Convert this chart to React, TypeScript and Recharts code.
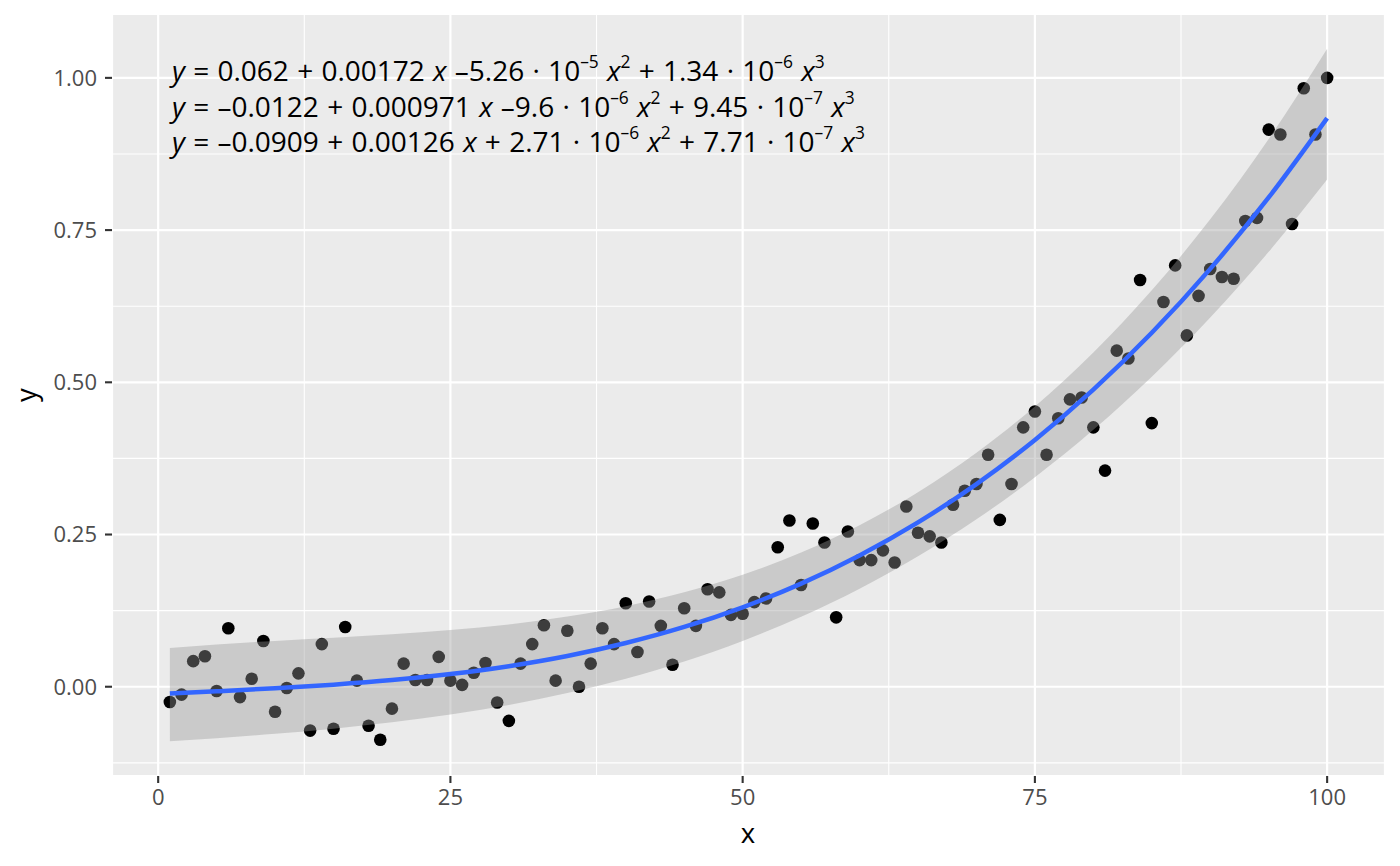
import React from "react";
import {
  Area, CartesianGrid, ComposedChart, Line, Scatter, XAxis, YAxis,
} from "recharts";

/* ggplot2-style cubic fit: raw points, a grey confidence ribbon and the blue fit line.
   The ribbon sits over the points (they show through it darker), so it lives in a
   second, transparent chart laid on top with the same scales. */

const W = 1400;
const H = 866;
const PANEL = "#EBEBEB";
const TICK_INK = "#4D4D4D";
const FONT = "'Open Sans', 'Noto Sans', sans-serif";
const X_DOMAIN: [number, number] = [-3.95, 104.95];
const Y_DOMAIN: [number, number] = [-0.1466, 1.1049];

const xTicks = [0, 25, 50, 75, 100];
const yTicks = [0, 0.25, 0.5, 0.75, 1];
const xMinor = [12.5, 37.5, 62.5, 87.5];
const yMinor = [-0.125, 0.125, 0.375, 0.625, 0.875];

// observed points, x = 1..100
const pointY = [
  -0.025, -0.013, 0.042, 0.05, -0.007, 0.096, -0.017, 0.013, 0.075, -0.041,
  -0.002, 0.022, -0.072, 0.07, -0.069, 0.098, 0.01, -0.064, -0.087, -0.036,
  0.038, 0.011, 0.011, 0.049, 0.01, 0.003, 0.023, 0.039, -0.026, -0.056,
  0.038, 0.07, 0.101, 0.01, 0.092, 0.0, 0.038, 0.096, 0.07, 0.137,
  0.057, 0.14, 0.1, 0.036, 0.129, 0.1, 0.16, 0.155, 0.118, 0.12,
  0.139, 0.145, 0.229, 0.273, 0.167, 0.268, 0.237, 0.114, 0.255, 0.208,
  0.208, 0.224, 0.204, 0.296, 0.253, 0.247, 0.237, 0.299, 0.322, 0.333,
  0.381, 0.274, 0.333, 0.426, 0.452, 0.381, 0.441, 0.472, 0.475, 0.426,
  0.355, 0.552, 0.539, 0.668, 0.433, 0.632, 0.692, 0.577, 0.642, 0.686,
  0.673, 0.67, 0.765, 0.77, 0.915, 0.907, 0.76, 0.983, 0.907, 1.0,
];

// fitted curve and ribbon, read at these x positions
const fitX = [1, 5, 10, 15, 20, 25, 30, 35, 40, 45, 50, 55, 60, 65, 70, 75, 80, 85, 90, 95, 100];
const fitMid = [
  -0.0112, -0.0075, -0.0025, 0.0034, 0.0109, 0.0208, 0.0338, 0.0505, 0.0718, 0.0982, 0.1305,
  0.1694, 0.2156, 0.2699, 0.3329, 0.4053, 0.4879, 0.5813, 0.6863, 0.8036, 0.9339,
];
const fitHigh = [
  0.0637, 0.0695, 0.0753, 0.0805, 0.0861, 0.0931, 0.1024, 0.1152, 0.1324, 0.155, 0.184,
  0.2204, 0.2653, 0.3196, 0.3843, 0.4604, 0.549, 0.6511, 0.7676, 0.8996, 1.048,
];
const fitLow = [
  -0.0896, -0.0844, -0.0773, -0.0688, -0.0585, -0.0457, -0.0298, -0.0104, 0.0132, 0.0416, 0.0753,
  0.1149, 0.161, 0.2142, 0.275, 0.3441, 0.422, 0.5093, 0.6065, 0.7143, 0.833,
];

type Tok = [string, ("i" | "s")?];
const equations: Tok[][] = [
  [["y", "i"], [" = 0.062 + 0.00172 "], ["x", "i"], [" –5.26 · 10"], ["–5", "s"], [" "], ["x", "i"], ["2", "s"],
    [" + 1.34 · 10"], ["–6", "s"], [" "], ["x", "i"], ["3", "s"]],
  [["y", "i"], [" = –0.0122 + 0.000971 "], ["x", "i"], [" –9.6 · 10"], ["–6", "s"], [" "], ["x", "i"], ["2", "s"],
    [" + 9.45 · 10"], ["–7", "s"], [" "], ["x", "i"], ["3", "s"]],
  [["y", "i"], [" = –0.0909 + 0.00126 "], ["x", "i"], [" + 2.71 · 10"], ["–6", "s"], [" "], ["x", "i"], ["2", "s"],
    [" + 7.71 · 10"], ["–7", "s"], [" "], ["x", "i"], ["3", "s"]],
];

const fitData = fitX.map((x, i) => ({ x, fit: fitMid[i], band: [fitLow[i], fitHigh[i]] }));
const points = pointY.map((y, i) => ({ x: i + 1, y }));

function EquationLine({ toks, x, y, size }: { toks: Tok[]; x: number; y: number; size: number }) {
  const raise = size * 0.46;
  let up = false;
  return (
    <text x={x} y={y} fontSize={size} fontFamily={FONT} fill="#000"
      style={{ whiteSpace: "pre", wordSpacing: 1 }}>
      {toks.map(([t, k], i) => {
        let dy = 0;
        if (k === "s" && !up) { dy = -raise; up = true; }
        else if (k !== "s" && up) { dy = raise; up = false; }
        return (
          <tspan key={i} dy={dy || undefined} fontStyle={k === "i" ? "italic" : undefined}
            fontSize={k === "s" ? size * 0.62 : undefined}>{t}</tspan>
        );
      })}
    </text>
  );
}

const Dot = (p: { cx?: number; cy?: number }) => <circle cx={p.cx} cy={p.cy} r={6.3} fill="#000" />;

const tickStyle = { fontSize: 22, fill: TICK_INK, fontFamily: FONT };
const tickLine = { stroke: "#333", strokeWidth: 2.1 };
const layer = { position: "absolute", left: 0, top: 0 } as const;

export default function App() {
  return (
    <div style={{ position: "fixed", left: 0, top: 0, width: W, height: H, background: "#fff" }}>
      {/* panel, grid, axes and raw points */}
      <div style={layer}>
        <ComposedChart width={W} height={H} data={fitData} margin={{ top: 14, right: 15, bottom: 0, left: 0 }}>
          <CartesianGrid fill={PANEL} stroke="#fff" strokeWidth={1.1}
            verticalValues={xMinor} horizontalValues={yMinor} />
          <CartesianGrid stroke="#fff" strokeWidth={2.2} />
          <XAxis dataKey="x" type="number" domain={X_DOMAIN} ticks={xTicks} allowDataOverflow
            height={90} tickSize={7} tickMargin={6} axisLine={false} tickLine={tickLine} tick={tickStyle} />
          <YAxis type="number" domain={Y_DOMAIN} ticks={yTicks} allowDataOverflow
            width={112} tickSize={7} tickMargin={8} axisLine={false} tickLine={tickLine} tick={tickStyle}
            tickFormatter={(v: number) => v.toFixed(2)} />
          <Scatter data={points} dataKey="y" shape={Dot} isAnimationActive={false} />
        </ComposedChart>
      </div>
      {/* ribbon and fitted line on top */}
      <div style={layer}>
        <ComposedChart width={W} height={H} data={fitData} margin={{ top: 14, right: 15, bottom: 90, left: 112 }}>
          <XAxis dataKey="x" type="number" domain={X_DOMAIN} allowDataOverflow hide />
          <YAxis type="number" domain={Y_DOMAIN} allowDataOverflow hide />
          <Area dataKey="band" type="monotone" fill="#999999" fillOpacity={0.4} stroke="none"
            isAnimationActive={false} />
          <Line dataKey="fit" type="monotone" stroke="#3366FF" strokeWidth={4.5} dot={false}
            activeDot={false} isAnimationActive={false} />
        </ComposedChart>
      </div>
      <svg width={W} height={H} style={{ ...layer, pointerEvents: "none" }}>
        {equations.map((toks, i) => (
          <EquationLine key={i} toks={toks} x={172} y={81 + i * 35.5} size={28} />
        ))}
        <text x={748} y={843} textAnchor="middle" fontSize={27.5} fontFamily={FONT} fill="#000">x</text>
        <text x={0} y={0} transform="translate(36 395) rotate(-90)" textAnchor="middle"
          fontSize={27.5} fontFamily={FONT} fill="#000">y</text>
      </svg>
    </div>
  );
}
